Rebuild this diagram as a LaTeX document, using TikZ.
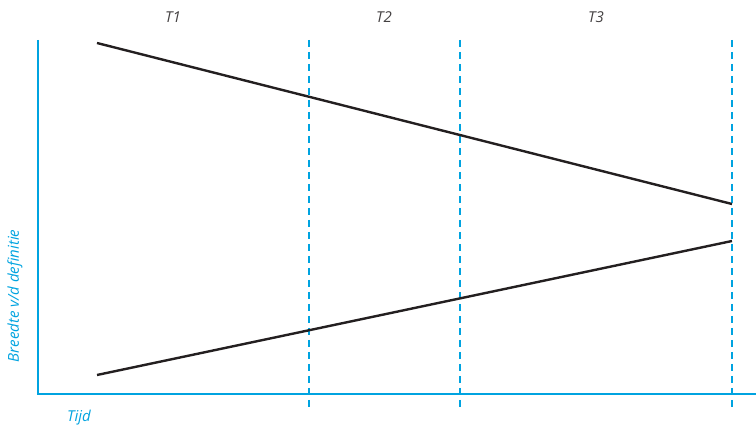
\documentclass[tikz,border=0pt]{standalone}
\usepackage{fontspec}
\setmainfont{Open Sans}
\usepackage{xcolor}
\usetikzlibrary{positioning}
\definecolor{axisblue}{RGB}{0,163,224}
\definecolor{linedark}{RGB}{35,31,32}

\begin{document}
\begin{tikzpicture}[x=1pt, y=-1pt, every node/.style={font=\itshape\fontsize{15}{18}\selectfont}]
    \useasboundingbox (0,0) rectangle (756,427);
    % axes
    \coordinate (top) at (38,40);
    \coordinate (origin) at (38,394);
    \coordinate (right) at (756,394);
    \draw[axisblue, line width=2.6pt] (top) -- (origin) -- (right);
    % phase separators
    \foreach \xpos/\name in {309/a, 460/b, 732/c} {
        \coordinate (sep\name top) at (\xpos,40);
        \coordinate (sep\name bot) at (\xpos,410);
        \draw[axisblue, line width=1.3pt, dash pattern=on 7pt off 5pt] (sep\name top) -- (sep\name bot);
    }
    % width of the definition
    \coordinate (upstart) at (97,43);
    \coordinate (upend) at (732,204);
    \coordinate (lowstart) at (97,375);
    \coordinate (lowend) at (732,241);
    \draw[linedark, line width=2.4pt] (upstart) -- (upend);
    \draw[linedark, line width=2.4pt] (lowstart) -- (lowend);
    % labels
    \node[text=linedark!85] (t1) at (173,17) {T1};
    \node[text=linedark!85] (t2) at (384,17) {T2};
    \node[text=linedark!85] (t3) at (596,17) {T3};
    \node[text=axisblue, rotate=90] (ylab) at (15,296) {Breedte v/d definitie};
    \node[text=axisblue] (xlab) at (79,418) {Tijd};
\end{tikzpicture}
\end{document}
